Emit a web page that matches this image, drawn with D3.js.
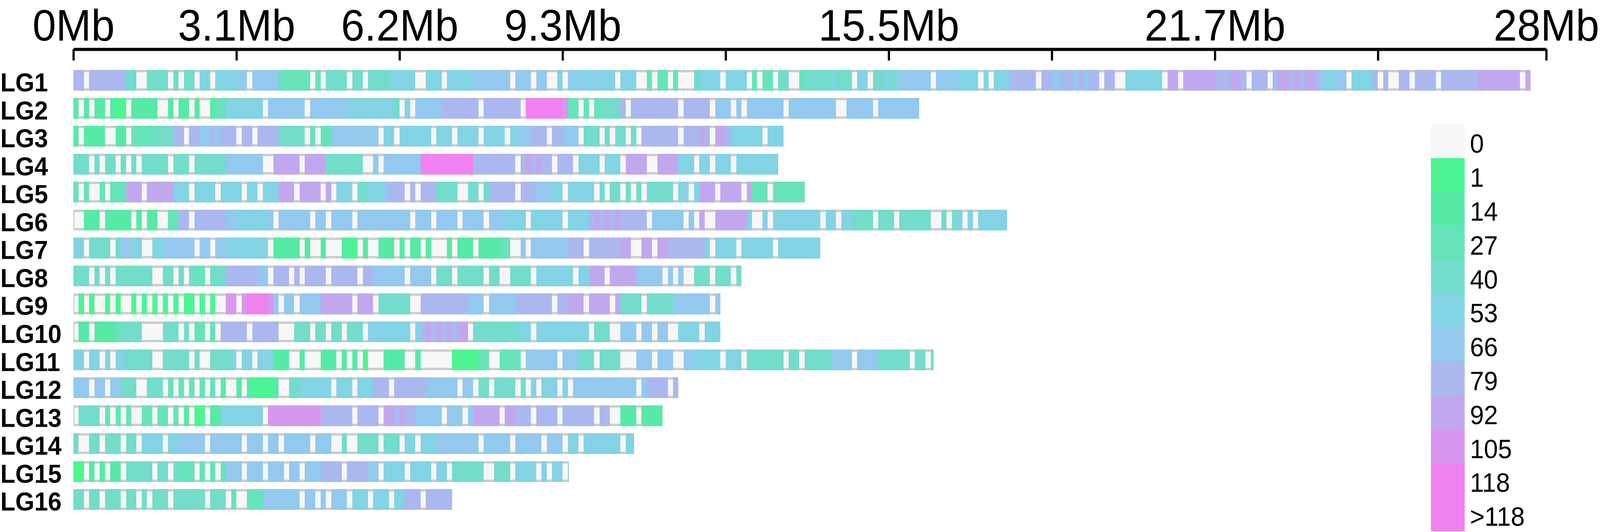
<!DOCTYPE html>
<html>
<head>
<meta charset="utf-8">
<script src="https://cdnjs.cloudflare.com/ajax/libs/d3/7.8.5/d3.min.js"></script>
<style>
	html, body { margin: 0; padding: 0; width: 100%; height: 100%; overflow: hidden; background: #ffffff; }
	#graphicContainer { width: 100%; height: 100%; }
	svg { display: block; }
</style>
</head>
<body>
<div id="graphicContainer"></div>
<script>

// Linkage groups and their lengths in Mb

var chromosomes = ["LG1","LG2","LG3","LG4","LG5","LG6","LG7","LG8","LG9","LG10","LG11","LG12","LG13","LG14","LG15","LG16"]

var lengthsMb = [27.7, 16.08, 13.5, 13.4, 13.9, 17.75, 14.2, 12.7, 12.3, 12.3, 16.35, 11.5, 11.2, 10.66, 9.42, 7.2]

// density class per 0.1Mb window, one char per window (hex index into the legend), spaces every 1Mb

var binSizeMb = 0.1

var densityBins = [
	"7707777777 4400444404 0440550555 5660666663 3333303044 4404404444 5555500555 0555556666 6660666066 0050656556 5550555003 0330300045 5550555503 0330440034 4444544405 5044545666 6660666655 5505055577 7770776677 6767707700 5555555088 0888888777 8870777078 8787887655 6605555707 0077077770 7777777888 8888808",
	"2020220211 0222220020 2202002335 5555550666 6666066666 6655555555 5405066666 7777777077 777770aaaa aaa9330303 4444707777 7777707777 7066606066 6666606666 6666600666 6606666666 6",
	"2022220022 0333334447 7077667677 7077077774 4444030336 6666666605 5055555505 5505555055 5505566777 0776660444 0404404077 7777707778 7088755555 50555",
	"4440404404 0404444404 4404444446 6666660088 8880888844 4444400606 666666aaaa aaaaaa7777 7777078787 7077705555 0555088880 0888855505 5055505555 5555",
	"3030030333 8880888885 5505555055 5505505558 8808888080 5550445556 7770707774 4440044047 7777077766 6550555550 4044040404 4444055058 8808888083 330333333",
	"0022202222 2020220033 7707777776 6555555606 6666606606 6660666666 6666066606 6660666606 6655550555 5550555578 7878777770 6666660608 0088888850 0505555555 5505505544 4404440444 4440040450 50555555",
	"5504444046 6550055666 6660660665 5555555022 2220200200 0211020022 2020220200 0202220222 2330060666 6666777077 7777880088 0887777777 5055550555 5550555555 55",
	"4440404044 4444400440 4043304447 7777766077 7070777707 7777077666 6660666604 4404444404 4004444055 5555505588 8088888666 6606060044 4044404",
	"0101001010 0101010101 0110101009 909aaaa960 6606666888 8880888044 4444007777 7777766606 6666777777 7077888088 8808444404 4444666666 606",
	"0220222234 4440000444 0403303077 7770777770 0044404404 4044405555 5555057878 7878804444 4444455055 5555555504 4400666066 0660055550 555",
	"5505505055 4444400444 4404004444 5055055522 2002000222 0202010002 2220020000 0011111330 0333306666 6606664440 4444000666 0666006655 5550555044 4444404404 4444666606 6664444440 4404",
	"6660660664 4400444030 3030303020 0202111120 0445555550 5550555777 0777777666 6660660440 4444040505 5505066666 6666666067 77707",
	"0444403030 3003303303 0201102255 5555550999 9999999777 7770777708 8787766666 0666068888 8088777077 7707777770 7700222022 22",
	"4004404440 4405555055 6666606666 6606660660 6666606660 0400444404 4405505556 6666666066 6660666660 6660550555 5555055",
	"1102020220 4444404404 3330303036 6606660666 0660666777 7077776605 5550555505 5044444400 4440555505 05505",
	"4404404440 4404044404 4444404440 3003336666 6660660606 6605550555 0557770777 77"
]

var legendLabels = ["0","1","14","27","40","53","66","79","92","105","118",">118"]

var legendColors = ["#f7f7f7","#4cf592","#56eaa6","#66e3bb","#73dccb","#82d3e3","#93c9ee","#aab8ef","#c1a8ee","#d897ee","#f081f0","#f081f0"]

var tickValues = [0, 3.1, 6.2, 9.3, 12.4, 15.5, 18.6, 21.7, 24.8, 28]

var tickLabels = ["0Mb","3.1Mb","6.2Mb","9.3Mb","","15.5Mb","","21.7Mb","","28Mb"]

function toRuns(str, len) {
	var codes = str.replace(/\s/g, "").split("").map(function(c) { return parseInt(c, 16) })
	var runs = []
	codes.forEach(function(c, i) {
		var start = i * binSizeMb
		if (start >= len - 1e-9) return
		var end = Math.min((i + 1) * binSizeMb, len)
		var last = runs[runs.length - 1]
		if (last && last.cls === c) {
			last.end = end
		}
		else {
			runs.push({"cls": c, "start": start, "end": end})
		}
	})
	return runs.filter(function(r) { return r.cls > 0 })
}

function init() {

	// drawn in a fixed 4316 x 1362 frame, stretched to whatever the window is

	var width = 4316
	var height = 1362
	var fontFamily = "'Liberation Sans', Arial, Helvetica, sans-serif"

	var svg = d3.select("#graphicContainer").append("svg")
				.attr("width", "100%")
				.attr("height", "100%")
				.attr("viewBox", "0 0 " + width + " " + height)
				.attr("preserveAspectRatio", "none")

	var x = d3.scaleLinear()
		.domain([0, 28])
		.range([198, 4171])

	var y = d3.scaleBand()
		.domain(chromosomes)
		.range([160.65, 1323.85])
		.padding(0.257)

	var color = d3.scaleOrdinal()
		.domain(d3.range(legendLabels.length))
		.range(legendColors)

	// top axis, ticks pointing down, labels kept just inside the top edge

	var axis = d3.axisTop(x)
		.tickValues(tickValues)
		.tickSizeInner(-29)
		.tickSizeOuter(0)
		.tickPadding(22)
		.tickFormat(function(d, i) { return tickLabels[i] })

	var gAxis = svg.append("g")
		.attr("transform", "translate(0,126)")
		.call(axis)
		.attr("font-family", fontFamily)
		.attr("font-size", 114)

	gAxis.select(".domain").attr("stroke", "#000").attr("stroke-width", 8)
	gAxis.selectAll(".tick line").attr("stroke", "#000").attr("stroke-width", 6)
	gAxis.selectAll(".tick text").attr("fill", "#000")

	var data = chromosomes.map(function(name, i) {
		return {"name": name, "length": lengthsMb[i], "runs": toRuns(densityBins[i], lengthsMb[i])}
	})

	var rows = svg.append("g")
		.selectAll("g")
		.data(data)
		.enter()
		.append("g")
		.attr("transform", function(d) { return "translate(0," + y(d.name) + ")" })

	// grey outline and empty background

	rows.append("rect")
		.attr("x", x(0))
		.attr("y", 0)
		.attr("width", function(d) { return x(d.length) - x(0) })
		.attr("height", y.bandwidth())
		.attr("fill", "#cccccc")

	rows.append("rect")
		.attr("x", x(0) + 3)
		.attr("y", 6)
		.attr("width", function(d) { return x(d.length) - x(0) - 6 })
		.attr("height", y.bandwidth() - 12)
		.attr("fill", legendColors[0])

	rows.selectAll(".bin")
		.data(function(d) { return d.runs })
		.enter()
		.append("rect")
		.attr("class", "bin")
		.attr("x", function(d) { return x(d.start) })
		.attr("y", 0)
		.attr("width", function(d) { return x(d.end) - x(d.start) })
		.attr("height", y.bandwidth())
		.attr("fill", function(d) { return color(d.cls) })
		.attr("shape-rendering", "crispEdges")

	rows.append("text")
		.attr("x", 1)
		.attr("y", 55)
		.attr("font-family", fontFamily)
		.attr("font-size", 66)
		.attr("font-weight", "bold")
		.attr("fill", "#000")
		.text(function(d) { return d.name })

	// legend

	var ly = d3.scaleBand()
		.domain(legendLabels)
		.range([318, 318 + 12 * 86.8])

	var legend = svg.append("g")

	legend.selectAll("rect")
		.data(legendLabels)
		.enter()
		.append("rect")
		.attr("x", 3860)
		.attr("y", function(d) { return ly(d) })
		.attr("width", 91)
		.attr("height", ly.bandwidth() + 0.5)
		.attr("fill", function(d, i) { return legendColors[i] })

	legend.selectAll("text")
		.data(legendLabels)
		.enter()
		.append("text")
		.attr("x", 3965)
		.attr("y", function(d) { return ly(d) + ly.bandwidth() / 2 + 30 })
		.attr("font-family", fontFamily)
		.attr("font-size", 68)
		.attr("fill", "#000")
		.text(function(d) { return d })

}

init()

</script>
</body>
</html>
